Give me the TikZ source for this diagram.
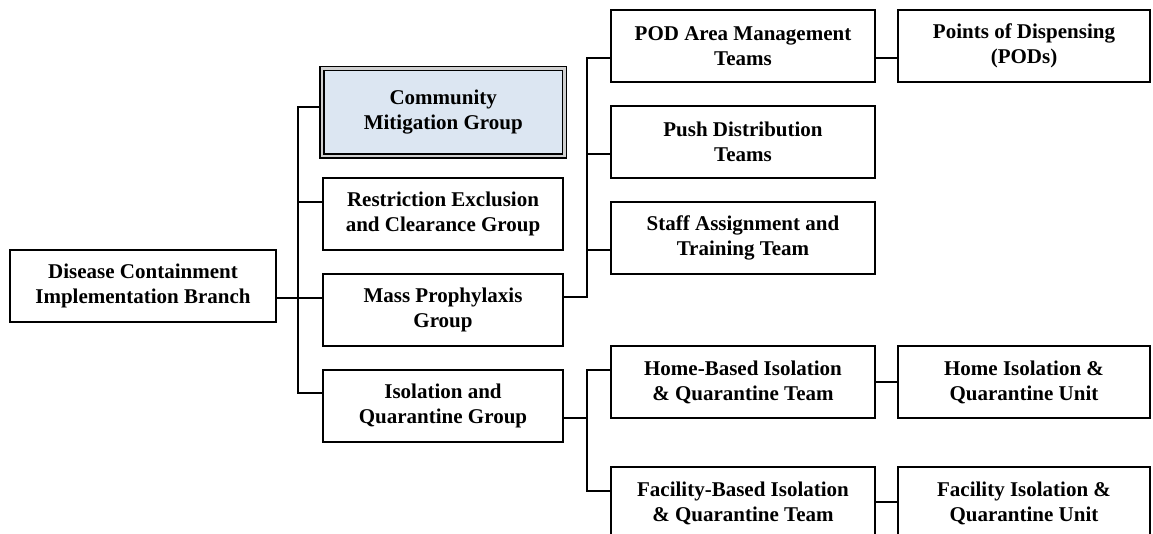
\documentclass[tikz,border=0pt]{standalone}
\usepackage{fontspec}
\setmainfont{Liberation Serif}
\definecolor{cmgfill}{HTML}{DCE6F2}
\definecolor{gapgray}{HTML}{D0D0D0}
\begin{document}
\begin{tikzpicture}[x=1pt,y=-1pt,
  box/.style={draw=black,line width=1.6pt,fill=white,align=center,inner sep=0pt,outer sep=0pt,
    font=\fontsize{21}{25}\selectfont\bfseries,minimum height=72pt},
  gbox/.style={box,minimum width=240pt},
  tbox/.style={box,minimum width=264pt},
  ubox/.style={box,minimum width=252pt},
  conn/.style={line width=1.5pt,line cap=rect}]
\useasboundingbox (0,0) rectangle (1153,533);
% nodes
\node[box,minimum width=266pt] (dcib) at (143,286) {Disease Containment\\Implementation Branch};
\node[box,fill=cmgfill,line width=1.5pt,double=gapgray,double distance=2.5pt,
      minimum width=242.5pt,minimum height=87.5pt] (cmg) at (443.25,112.25) {Community\\Mitigation Group};
\node[gbox] (rec) at (443,214) {Restriction Exclusion\\and Clearance Group};
\node[gbox] (mpg) at (443,310) {Mass Prophylaxis\\Group};
\node[gbox] (iqg) at (443,406) {Isolation and\\Quarantine Group};
\node[tbox] (pod) at (743,46) {POD Area Management\\Teams};
\node[tbox] (push) at (743,142) {Push Distribution\\Teams};
\node[tbox] (staff) at (743,238) {Staff Assignment and\\Training Team};
\node[tbox] (home) at (743,382) {Home-Based Isolation\\\& Quarantine Team};
\node[tbox] (fac) at (743,503) {Facility-Based Isolation\\\& Quarantine Team};
\node[ubox] (pods) at (1024,46) {Points of Dispensing\\(PODs)};
\node[ubox] (homeu) at (1024,382) {Home Isolation \&\\Quarantine Unit};
\node[ubox] (facu) at (1024,503) {Facility Isolation \&\\Quarantine Unit};
% trunk coordinates
\coordinate (t1a) at (298,107);
\coordinate (t1b) at (298,393);
\coordinate (t2a) at (587,58);
\coordinate (t2b) at (587,297);
\coordinate (t3a) at (587,370);
\coordinate (t3b) at (587,491);
% connectors
\draw[conn] (t1a) -- (t1b);
\draw[conn] (t1a) -- ([xshift=-2.75pt]cmg.west |- t1a);
\draw[conn] ([yshift=12pt]rec.west) -- ++(-25,0);
\draw[conn] ([yshift=-12pt]dcib.east) -- ([yshift=12pt]mpg.west);
\draw[conn] (t1b) -- (iqg.west |- t1b);
\draw[conn] (t2a) -- (t2b);
\draw[conn] ([yshift=13pt]mpg.east) -- (t2b);
\draw[conn] (t2a) -- ([yshift=-12pt]pod.west);
\draw[conn] ([yshift=-12pt]push.west) -- ++(-24,0);
\draw[conn] ([yshift=-12pt]staff.west) -- ++(-24,0);
\draw[conn] ([yshift=-12pt]pod.east) -- ([yshift=-12pt]pods.west);
\draw[conn] (t3a) -- (t3b);
\draw[conn] ([yshift=-12pt]iqg.east) -- ++(24,0);
\draw[conn] (t3a) -- (home.west |- t3a);
\draw[conn] (t3b) -- (fac.west |- t3b);
\draw[conn] (home.east) -- (homeu.west);
\draw[conn] ([yshift=1pt]fac.east) -- ([yshift=1pt]facu.west);
\end{tikzpicture}
\end{document}
